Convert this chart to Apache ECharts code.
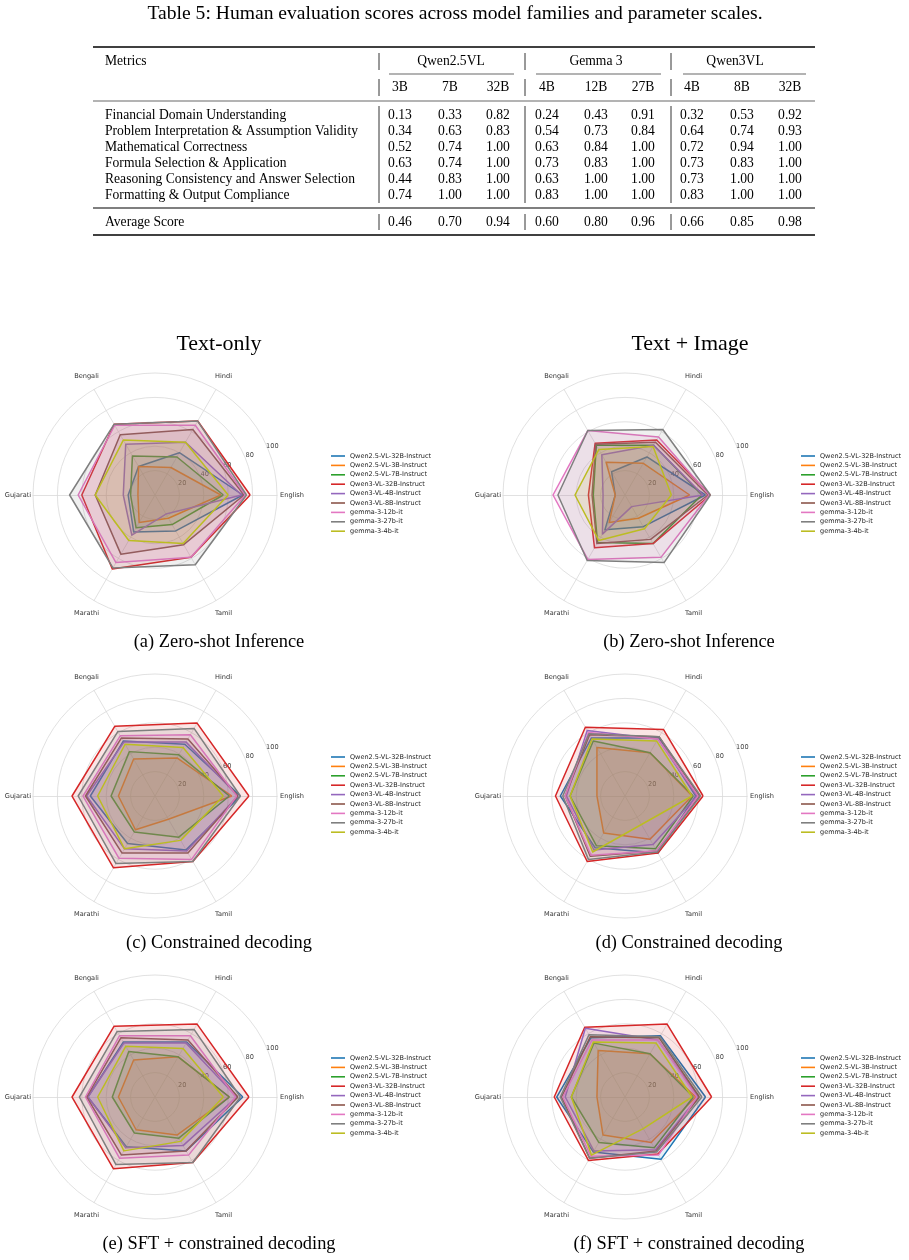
<!DOCTYPE html>
<html>
<head>
<meta charset="utf-8">
<script src="https://cdn.jsdelivr.net/npm/echarts@6.0.0/dist/echarts.min.js"></script>
<style>
html,body{margin:0;padding:0;background:#fff}
#main{width:909px;height:1260px}
</style>
</head>
<body>
<div id="main"></div>
<script>
// ---- table data ----
var metrics = ['Financial Domain Understanding', 'Problem Interpretation & Assumption Validity',
  'Mathematical Correctness', 'Formula Selection & Application',
  'Reasoning Consistency and Answer Selection', 'Formatting & Output Compliance'];
var families = ['Qwen2.5VL', 'Gemma 3', 'Qwen3VL'];
var sizes = ['3B', '7B', '32B', '4B', '12B', '27B', '4B', '8B', '32B'];
var scores = [
  [0.13, 0.33, 0.82, 0.24, 0.43, 0.91, 0.32, 0.53, 0.92],
  [0.34, 0.63, 0.83, 0.54, 0.73, 0.84, 0.64, 0.74, 0.93],
  [0.52, 0.74, 1.00, 0.63, 0.84, 1.00, 0.72, 0.94, 1.00],
  [0.63, 0.74, 1.00, 0.73, 0.83, 1.00, 0.73, 0.83, 1.00],
  [0.44, 0.83, 1.00, 0.63, 1.00, 1.00, 0.73, 1.00, 1.00],
  [0.74, 1.00, 1.00, 0.83, 1.00, 1.00, 0.83, 1.00, 1.00]
];
var avgScore = [0.46, 0.70, 0.94, 0.60, 0.80, 0.96, 0.66, 0.85, 0.98];

// ---- radar data ----
var langs = ['English', 'Hindi', 'Bengali', 'Gujarati', 'Marathi', 'Tamil'];
var models = ['Qwen2.5-VL-32B-Instruct', 'Qwen2.5-VL-3B-Instruct', 'Qwen2.5-VL-7B-Instruct',
  'Qwen3-VL-32B-Instruct', 'Qwen3-VL-4B-Instruct', 'Qwen3-VL-8B-Instruct',
  'gemma-3-12b-it', 'gemma-3-27b-it', 'gemma-3-4b-it'];
var colors = ['#1f77b4', '#ff7f0e', '#2ca02c', '#d62728', '#9467bd', '#8c564b', '#e377c2', '#7f7f7f', '#bcbd22'];
var ringTicks = [20, 40, 60, 80, 100];

// (a) zero-shot, text only
var zeroText = [
  [72, 40, 27, 22, 35, 34],
  [54, 26, 27, 14, 26, 22],
  [56, 36, 37, 20, 31, 28],
  [78, 70, 67, 60, 70, 59],
  [71, 50, 48, 26, 38, 18],
  [73, 62, 57, 49, 56, 47],
  [74, 66, 66, 63, 64, 59],
  [75, 70, 67, 70, 69, 66],
  [60, 50, 52, 49, 43, 46]
];
// (b) zero-shot, text + image
var zeroImage = [
  [66, 36, 22, 8, 33, 30],
  [53, 30, 31, 8, 26, 22],
  [63, 47, 47, 26, 45, 46],
  [70, 52, 49, 30, 50, 46],
  [64, 47, 38, 18, 37, 11],
  [68, 50, 48, 27, 46, 42],
  [69, 55, 61, 59, 61, 59],
  [70, 62, 61, 55, 62, 64],
  [38, 46, 43, 41, 43, 32]
];
// (c) constrained decoding, text only
var consText = [
  [70, 49, 52, 53, 45, 51],
  [63, 36, 35, 30, 32, 22],
  [61, 39, 42, 36, 34, 39],
  [77, 69, 66, 68, 68, 62],
  [68, 51, 51, 56, 50, 52],
  [68, 54, 55, 57, 54, 54],
  [67, 58, 57, 59, 59, 60],
  [70, 64, 61, 63, 64, 62],
  [56, 46, 49, 47, 50, 42]
];
// (d) constrained decoding, text + image
var consImage = [
  [58, 55, 55, 53, 49, 54],
  [55, 41, 46, 23, 35, 41],
  [56, 41, 52, 45, 47, 50],
  [64, 63, 65, 57, 62, 54],
  [59, 54, 62, 48, 51, 46],
  [61, 56, 58, 49, 57, 52],
  [60, 54, 60, 49, 56, 52],
  [62, 56, 59, 51, 60, 53],
  [55, 52, 54, 45, 53, 27]
];
// (e) SFT + constrained, text only
var sftText = [
  [72, 52, 52, 55, 47, 51],
  [61, 38, 35, 30, 31, 36],
  [61, 38, 43, 35, 34, 39],
  [77, 69, 67, 68, 68, 62],
  [67, 51, 51, 55, 48, 46],
  [68, 54, 56, 56, 55, 51],
  [66, 58, 58, 57, 58, 55],
  [70, 64, 62, 62, 64, 62],
  [56, 46, 48, 47, 51, 42]
];
// (f) SFT + constrained, text + image
var sftImage = [
  [66, 58, 56, 56, 52, 59],
  [58, 41, 44, 23, 36, 43],
  [56, 41, 51, 44, 43, 48],
  [71, 69, 66, 58, 60, 54],
  [60, 54, 65, 49, 51, 50],
  [61, 56, 57, 52, 58, 51],
  [59, 54, 54, 51, 56, 55],
  [63, 57, 59, 53, 58, 52],
  [55, 51, 52, 44, 55, 30]
];

var panels = [
  {data: zeroText,  cx: 155, cy: 495,  caption: '(a) Zero-shot Inference'},
  {data: zeroImage, cx: 625, cy: 495,  caption: '(b) Zero-shot Inference'},
  {data: consText,  cx: 155, cy: 796,  caption: '(c) Constrained decoding'},
  {data: consImage, cx: 625, cy: 796,  caption: '(d) Constrained decoding'},
  {data: sftText,   cx: 155, cy: 1097, caption: '(e) SFT + constrained decoding'},
  {data: sftImage,  cx: 625, cy: 1097, caption: '(f) SFT + constrained decoding'}
];

var serif = 'Liberation Serif, Times New Roman, serif';
var sans = 'DejaVu Sans, sans-serif';
var R = 122;
var tfs = 13.6;

var chart = echarts.init(document.getElementById('main'), null, {renderer: 'canvas'});

var radar = [], polar = [], angleAxis = [], radiusAxis = [], legend = [], series = [];
var els = [];

function txt(x, y, s, size, align) {
  els.push({type: 'text', x: x, y: y, silent: true,
    style: {text: s, fontSize: size, fontFamily: serif, fill: '#000', align: align || 'center', verticalAlign: 'middle'}});
}
function hline(x1, x2, y, w) {
  els.push({type: 'line', silent: true, shape: {x1: x1, y1: y, x2: x2, y2: y}, style: {stroke: '#000', lineWidth: w}});
}
function vline(x, y1, y2) {
  els.push({type: 'line', silent: true, shape: {x1: x, y1: y1, x2: x, y2: y2}, style: {stroke: '#000', lineWidth: 0.8}});
}

// table
txt(455, 14, 'Table 5: Human evaluation scores across model families and parameter scales.', 19.6);
var tL = 93, tR = 815;
var colX = [400, 450, 498, 547, 596, 643, 692, 742, 790];
var groupX = [451, 596, 735];
var cmid = [[389, 514], [536, 661], [683, 806]];
var barX = [379, 525, 671];
var rowY = [115, 131, 147, 163, 179, 195];
hline(tL, tR, 47, 1.3);
txt(105, 61, 'Metrics', tfs, 'left');
families.forEach(function (f, i) {
  txt(groupX[i], 61, f, tfs);
  hline(cmid[i][0], cmid[i][1], 74, 0.6);
});
sizes.forEach(function (s, i) { txt(colX[i], 87, s, tfs); });
hline(tL, tR, 101, 0.6);
metrics.forEach(function (m, r) {
  txt(105, rowY[r], m, tfs, 'left');
  scores[r].forEach(function (v, c) { txt(colX[c], rowY[r], v.toFixed(2), tfs); });
});
hline(tL, tR, 208, 1.1);
txt(105, 222, 'Average Score', tfs, 'left');
avgScore.forEach(function (v, c) { txt(colX[c], 222, v.toFixed(2), tfs); });
hline(tL, tR, 235, 1.3);
barX.forEach(function (x) {
  vline(x, 53, 70); vline(x, 79, 96); vline(x, 106, 203); vline(x, 214, 230);
});

txt(219, 344, 'Text-only', 22);
txt(690, 344, 'Text + Image', 22);

panels.forEach(function (p, i) {
  radar.push({
    center: [p.cx, p.cy], radius: R, startAngle: 0, shape: 'circle', splitNumber: 5,
    indicator: langs.map(function (l) { return {name: l, min: 0, max: 100}; }),
    axisName: {color: '#333', fontSize: 6.6, fontFamily: sans, align: 'center', verticalAlign: 'middle'},
    nameGap: 15,
    splitLine: {lineStyle: {color: '#d9d9d9', width: 0.8}},
    splitArea: {show: false},
    axisLine: {lineStyle: {color: '#d9d9d9', width: 0.8}},
    axisTick: {show: false},
    axisLabel: {show: false}
  });
  // ring value labels sit along the 22.5 degree direction
  polar.push({center: [p.cx, p.cy], radius: [5, 127]});
  angleAxis.push({polarIndex: i, startAngle: 22.5, min: 0, max: 360, show: false});
  radiusAxis.push({
    polarIndex: i, min: 0, max: 100, interval: 20,
    axisLine: {show: false}, axisTick: {show: false}, splitLine: {show: false},
    axisLabel: {
      showMinLabel: false, margin: 0, fontSize: 6.6, fontFamily: sans, color: '#444',
      align: 'center', verticalAlign: 'middle',
      formatter: function (v) { return ringTicks.indexOf(v) >= 0 ? String(v) : ''; }
    }
  });
  legend.push({
    orient: 'vertical', left: p.cx + 176, top: p.cy - 43, padding: 0,
    data: models, icon: 'rect', itemWidth: 14, itemHeight: 1.6, itemGap: 1.4,
    selectedMode: false,
    textStyle: {fontSize: 6.5, lineHeight: 8, fontFamily: sans, color: '#222'}
  });
  series.push({
    type: 'radar', radarIndex: i, symbol: 'none', silent: true,
    data: models.map(function (m, k) {
      return {
        name: m, value: p.data[k],
        itemStyle: {color: colors[k]},
        lineStyle: {color: colors[k], width: 1.5},
        areaStyle: {color: colors[k], opacity: 0.12}
      };
    })
  });
  txt(p.cx + 64, p.cy + 147, p.caption, 18.4);
});

chart.setOption({
  animation: false,
  backgroundColor: '#fff',
  radar: radar,
  polar: polar,
  angleAxis: angleAxis,
  radiusAxis: radiusAxis,
  legend: legend,
  series: series,
  graphic: {elements: els}
});
</script>
</body>
</html>
